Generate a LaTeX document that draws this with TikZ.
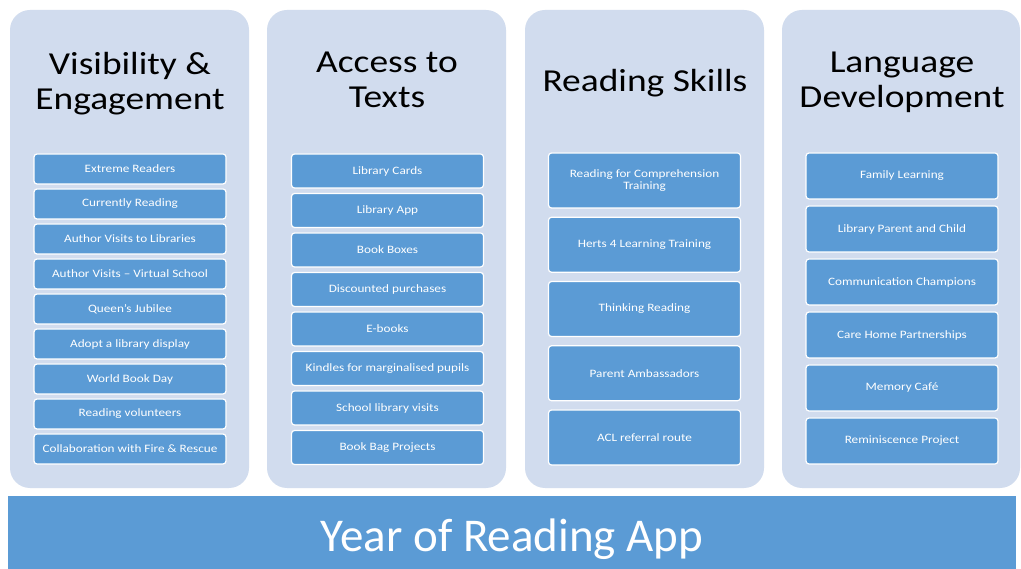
\documentclass[tikz,border=0pt]{standalone}
\usepackage{fontspec}
\setmainfont{Carlito}
\newfontfamily\widefont[FakeStretch=1.17]{Carlito}

\definecolor{panelblue}{HTML}{D1DCEE}
\definecolor{itemblue}{HTML}{5B9BD5}

\tikzset{
  panel/.style={fill=panelblue, rounded corners=20pt},
  head/.style={font=\widefont\fontsize{32}{35}\selectfont, align=center, inner sep=0pt, anchor=north},
  item/.style={draw=white, line width=1.2pt, fill=itemblue, rounded corners=3pt,
    minimum width=192pt, inner sep=0pt, text=white, align=center,
    font=\widefont\fontsize{11.3}{12.5}\selectfont},
}

\begin{document}
\begin{tikzpicture}[x=1pt, y=-1pt]
  \useasboundingbox (0,0) rectangle (1021,569);
  \fill[white] (0,0) rectangle (1021,569);

  % four columns
  \fill[panel] (10,10) rectangle (249,488);
  \fill[panel] (267,10) rectangle (506,488);
  \fill[panel] (525,10) rectangle (764,488);
  \fill[panel] (782,10) rectangle (1020,488);

  \node[head] (visT) at (130,52) {Visibility \&\\Engagement};
  \node[head] (accT) at (387,52) {Access to\\Texts};
  \node[head, anchor=base] (skiT) at (645,92) {Reading Skills};
  \node[head] (lanT) at (902,52) {Language\\Development};

  % visibility & engagement
  \foreach \txt [count=\i] in {Extreme Readers, Currently Reading,
      Author Visits to Libraries, Author Visits – Virtual School,
      Queen’s Jubilee, Adopt a library display, World Book Day,
      Reading volunteers, Collaboration with Fire \& Rescue}
    \node[item, minimum height=30pt] (vis\i) at (130,134+35*\i) {\txt};

  % access to texts
  \foreach \txt [count=\i] in {Library Cards, Library App, Book Boxes,
      Discounted purchases, E-books, Kindles for marginalised pupils,
      School library visits, Book Bag Projects}
    \node[item, minimum height=34pt] (acc\i) at (387.5,131.5+39.5*\i) {\txt};

  % reading skills
  \foreach \txt [count=\i] in {{Reading for Comprehension\\Training},
      Herts 4 Learning Training, Thinking Reading, Parent Ambassadors,
      ACL referral route}
    \node[item, minimum height=55pt] (ski\i) at (644.5,116.25+64.25*\i) {\txt};

  % language development
  \foreach \txt [count=\i] in {Family Learning, Library Parent and Child,
      Communication Champions, Care Home Partnerships, Memory Café,
      Reminiscence Project}
    \node[item, minimum height=46pt] (lan\i) at (902,123+53*\i) {\txt};

  % base bar
  \node[fill=itemblue, minimum width=1008pt, minimum height=73pt, inner sep=0pt,
    text=white, font=\fontsize{47}{50}\selectfont, text height=37pt, text depth=0pt]
    (app) at (512,532.5) {Year of Reading App};
\end{tikzpicture}
\end{document}
